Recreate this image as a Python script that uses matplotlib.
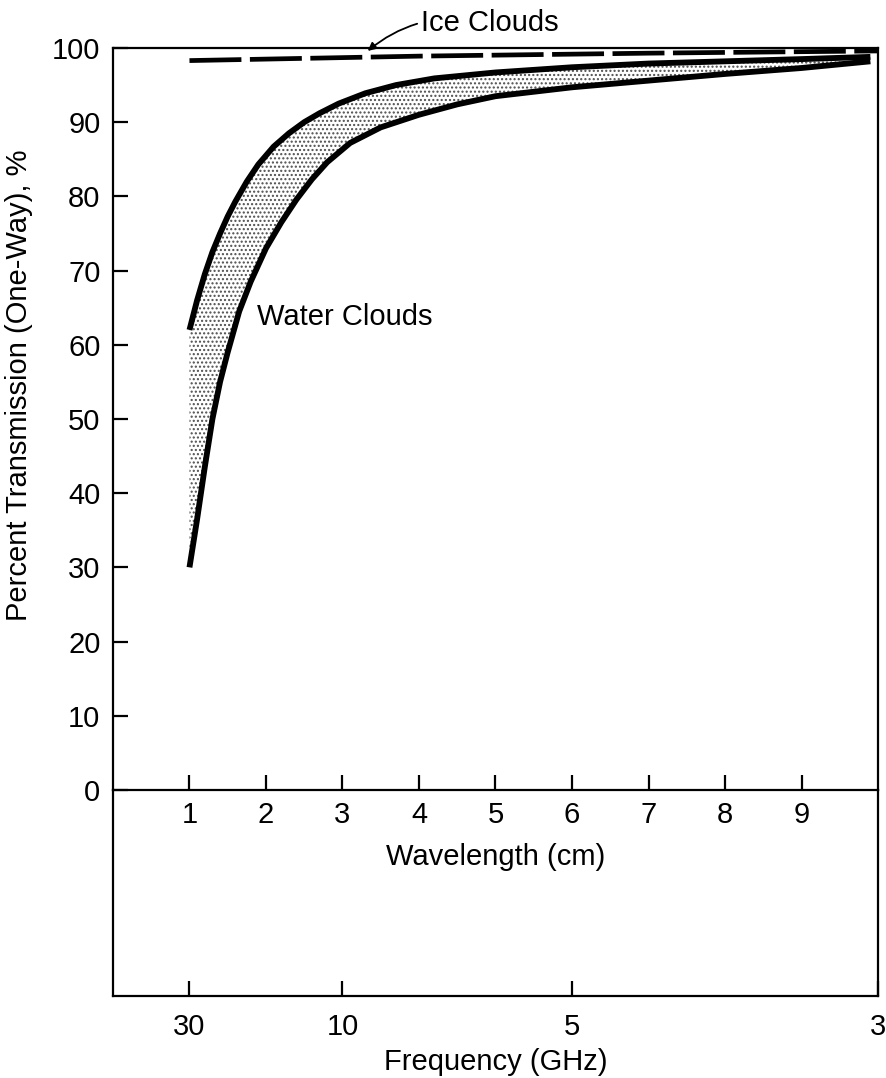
import matplotlib.pyplot as plt
import numpy as np

plt.rcParams['font.family'] = ['Liberation Sans', 'DejaVu Sans']

# water clouds band (wavelength cm, percent)
upper_wl = [1.0, 1.1, 1.2, 1.3, 1.4, 1.5, 1.6, 1.75, 1.9, 2.1, 2.3, 2.5, 2.7, 2.95, 3.3, 3.7, 4.2,
            5.0, 6.0, 7.0, 8.0, 9.0, 9.9]
upper_pct = [62, 66, 69.5, 72.5, 75, 77.3, 79.3, 82, 84.3, 86.7, 88.5, 90, 91.2, 92.5, 93.9, 95,
             95.9, 96.7, 97.4, 97.9, 98.2, 98.5, 98.8]

lower_wl = [1.0, 1.1, 1.2, 1.3, 1.4, 1.5, 1.65, 1.8, 2.0, 2.2, 2.4, 2.6, 2.8, 3.1, 3.5, 4.0, 4.5,
            5.0, 6.0, 7.0, 8.0, 9.0, 9.9]
lower_pct = [30, 36.5, 43.5, 50, 55, 59, 64.5, 68.5, 73, 76.5, 79.6, 82.3, 84.6, 87.2, 89.3, 91,
             92.4, 93.5, 94.7, 95.6, 96.5, 97.3, 98.2]

# ice clouds
ice_wl = [1.0, 4.0, 7.0, 10.0]
ice_pct = [98.3, 98.9, 99.3, 99.6]

wl_ticks = [1, 2, 3, 4, 5, 6, 7, 8, 9]
pct_ticks = [0, 10, 20, 30, 40, 50, 60, 70, 80, 90, 100]
freq_ticks = [30, 10, 5, 3]  # GHz

FS = 21
LW = 1.6

fig = plt.figure(figsize=(8.86, 10.78), dpi=100)
ax = fig.add_axes([0.1275, 0.2672, 0.8635, 0.6883])
ax2 = fig.add_axes([0.1275, 0.0761, 0.8635, 0.1911])
ax.set_zorder(2)
ax.patch.set_visible(False)

# band
poly_x = np.concatenate([upper_wl, lower_wl[::-1]])
poly_y = np.concatenate([upper_pct, lower_pct[::-1]])
plt.rcParams['hatch.linewidth'] = 1.0
ax.fill(poly_x, poly_y, facecolor='white', edgecolor='0.3', hatch='....', linewidth=0)
ax.plot(upper_wl, upper_pct, color='black', lw=4.2, solid_capstyle='butt', solid_joinstyle='round')
ax.plot(lower_wl, lower_pct, color='black', lw=4.2, solid_capstyle='butt', solid_joinstyle='round')

ax.plot(ice_wl, ice_pct, color='black', lw=3.4, dashes=(11, 1.8), clip_on=False)

ax.text(1.88, 63.7, 'Water Clouds', fontsize=FS, va='center', ha='left')
ax.annotate('Ice Clouds', xy=(3.33, 99.6), xytext=(4.03, 103.4), fontsize=FS, va='center', ha='left',
            annotation_clip=False,
            arrowprops=dict(arrowstyle='-|>', color='black', lw=1.3, mutation_scale=12,
                            shrinkA=1, shrinkB=0, connectionstyle='arc3,rad=0.25'))

ax.set_xlim(0, 10)
ax.set_ylim(0, 100)
ax.set_yticks(pct_ticks)
ax.set_xticks(wl_ticks)
ax.tick_params(axis='both', direction='in', length=11, width=LW, labelsize=FS)
ax.tick_params(axis='y', pad=9)
ax.tick_params(axis='x', pad=8)
ax.set_xlabel('Wavelength (cm)', fontsize=FS, labelpad=10)
ax.set_ylabel('Percent Transmission (One-Way), %', fontsize=FS)
ax.yaxis.set_label_coords(-0.104, 0.546)
for s in ax.spines.values():
    s.set_linewidth(LW)

# frequency box underneath
ax2.set_xlim(0, 10)
ax2.set_ylim(0, 1)
ax2.set_xticks([30.0 / f for f in freq_ticks])
ax2.set_xticklabels([str(f) for f in freq_ticks])
ax2.set_yticks([])
ax2.spines['top'].set_visible(False)
ax2.tick_params(axis='x', direction='in', length=11, width=LW, labelsize=FS, pad=12)
ax2.set_xlabel('Frequency (GHz)', fontsize=FS, labelpad=5)
for s in ax2.spines.values():
    s.set_linewidth(LW)

fig.savefig('out.png', dpi=100)
